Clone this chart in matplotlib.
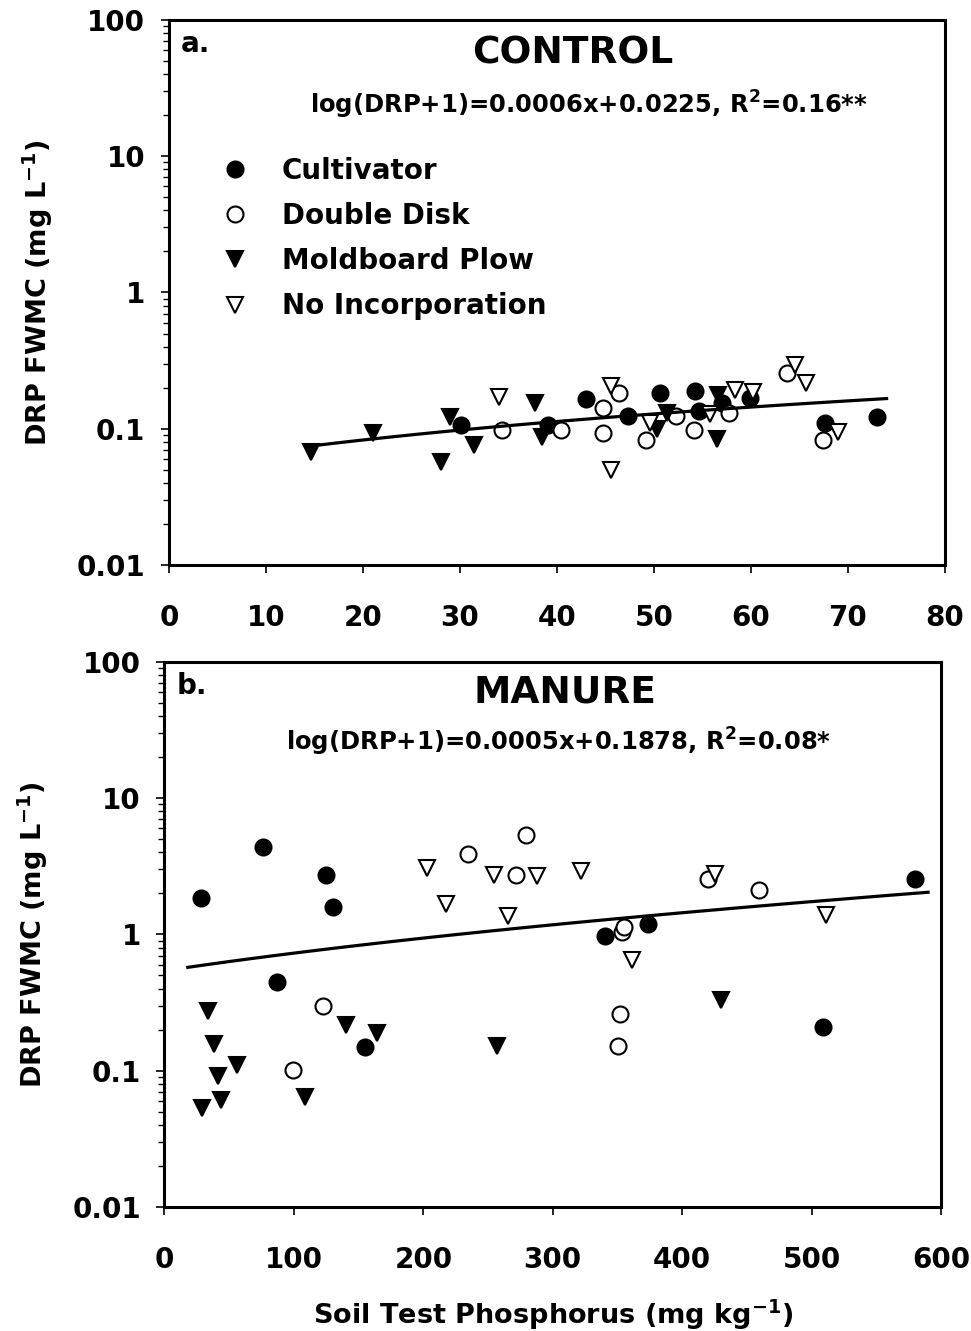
import matplotlib
matplotlib.use('Agg')
import matplotlib.pyplot as plt
import numpy as np
from matplotlib.ticker import FixedLocator, LogLocator, NullFormatter, FuncFormatter

plt.rcParams['font.family'] = ['DejaVu Sans']
plt.rcParams['font.weight'] = 'bold'
plt.rcParams['mathtext.default'] = 'bf'

treatments = ['Cultivator', 'Double Disk', 'Moldboard Plow', 'No Incorporation']

# panel a: CONTROL (soil test P, DRP FWMC)
ctrl_cult_x = [30.1, 39.1, 43.0, 47.3, 50.6, 54.2, 54.7, 57.0, 59.9, 67.6, 73.0]
ctrl_cult_y = [0.107, 0.107, 0.166, 0.123, 0.183, 0.190, 0.136, 0.155, 0.168, 0.111, 0.122]
ctrl_disk_x = [34.3, 40.4, 44.8, 44.8, 46.4, 49.2, 52.3, 54.1, 57.8, 63.7, 67.4]
ctrl_disk_y = [0.098, 0.098, 0.142, 0.093, 0.183, 0.082, 0.125, 0.098, 0.130, 0.257, 0.082]
ctrl_plow_x = [14.6, 21.0, 29.0, 28.1, 31.5, 37.7, 38.5, 50.3, 51.4, 56.6, 56.5]
ctrl_plow_y = [0.068, 0.093, 0.122, 0.057, 0.076, 0.155, 0.087, 0.100, 0.130, 0.176, 0.084]
ctrl_noinc_x = [34.0, 45.6, 45.6, 49.6, 55.8, 58.4, 60.2, 64.6, 65.7, 69.0]
ctrl_noinc_y = [0.172, 0.205, 0.050, 0.110, 0.128, 0.193, 0.186, 0.295, 0.218, 0.095]

# panel b: MANURE
man_cult_x = [28.2, 76.1, 86.9, 124.8, 130.2, 154.9, 340.4, 373.9, 509, 580]
man_cult_y = [1.84, 4.36, 0.444, 2.71, 1.58, 0.150, 0.97, 1.20, 0.210, 2.57]
man_disk_x = [99.3, 122.5, 234.3, 271.4, 279.7, 350.2, 352, 353.3, 355.1, 420.2, 459.4]
man_disk_y = [0.102, 0.296, 3.92, 2.71, 5.35, 0.153, 0.261, 1.04, 1.14, 2.57, 2.12]
man_plow_x = [29, 33.6, 38.3, 41.3, 43.7, 56, 108.6, 140.3, 164.2, 257.2, 429.8]
man_plow_y = [0.053, 0.276, 0.158, 0.092, 0.061, 0.111, 0.064, 0.218, 0.190, 0.153, 0.333]
man_noinc_x = [202.6, 217.3, 254.6, 265.2, 288.1, 321.9, 361, 425.4, 511]
man_noinc_y = [3.09, 1.68, 2.71, 1.36, 2.68, 2.92, 0.647, 2.79, 1.40]

# regressions: log(DRP+1) = slope*x + intercept
ctrl_fit = (0.0006, 0.0225)
ctrl_fit_range = (14.6, 74.0)
man_fit = (0.0005, 0.1878)
man_fit_range = (18.0, 590.0)

ctrl_xticks = [0, 10, 20, 30, 40, 50, 60, 70, 80]
man_xticks = [0, 100, 200, 300, 400, 500, 600]
yticks = [0.01, 0.1, 1, 10, 100]

styles = {
    'Cultivator': dict(marker='o', mfc='black', mec='black', ms=11.5),
    'Double Disk': dict(marker='o', mfc='white', mec='black', ms=11.5),
    'Moldboard Plow': dict(marker='v', mfc='black', mec='black', ms=12),
    'No Incorporation': dict(marker='v', mfc='white', mec='black', ms=12),
}


def plot_panel(ax, series, fit, fit_range, xticks, letter, title, eq, title_xy, eq_xy):
    for name, (xs, ys) in zip(treatments, series):
        ax.plot(xs, ys, linestyle='None', mew=1.5, label=name, zorder=3, **styles[name])

    xf = np.linspace(fit_range[0], fit_range[1], 50)
    yf = 10 ** (fit[0] * xf + fit[1]) - 1
    ax.plot(xf, yf, color='black', lw=2.3, zorder=4)

    ax.set_yscale('log')
    ax.set_ylim(0.01, 100)
    ax.set_xlim(xticks[0], xticks[-1])
    ax.xaxis.set_major_locator(FixedLocator(xticks))
    ax.yaxis.set_major_locator(FixedLocator(yticks))
    ax.yaxis.set_major_formatter(FuncFormatter(lambda v, p: '%g' % v))
    ax.yaxis.set_minor_locator(LogLocator(base=10, subs=np.arange(2, 10)))
    ax.yaxis.set_minor_formatter(NullFormatter())
    ax.tick_params(axis='x', which='major', direction='out', length=6, width=1.2,
                   labelsize=20, pad=22)
    ax.tick_params(axis='y', which='major', direction='out', length=6, width=1.2,
                   labelsize=20, pad=11)
    ax.tick_params(axis='y', which='minor', direction='out', length=4, width=1.0)
    for sp in ax.spines.values():
        sp.set_linewidth(2.2)

    ax.set_ylabel(r'DRP FWMC (mg L$^{-1}$)', fontsize=19.5, fontweight='bold')
    ax.yaxis.set_label_coords(-0.147, 0.5)

    ax.text(0.015, 0.955, letter, transform=ax.transAxes, fontsize=20,
            fontweight='bold', va='center', ha='left')
    ax.text(title_xy[0], title_xy[1], title, transform=ax.transAxes, fontsize=27,
            fontweight='bold', va='center', ha='center')
    ax.text(eq_xy[0], eq_xy[1], eq, transform=ax.transAxes, fontsize=17.5,
            fontweight='bold', va='center', ha='center')


fig = plt.figure(figsize=(9.71, 13.31), dpi=100)
ax1 = fig.add_axes([0.174, 0.5755, 0.799, 0.4095])
ax2 = fig.add_axes([0.1694, 0.0932, 0.7997, 0.4095])

plot_panel(ax1,
           [(ctrl_cult_x, ctrl_cult_y), (ctrl_disk_x, ctrl_disk_y),
            (ctrl_plow_x, ctrl_plow_y), (ctrl_noinc_x, ctrl_noinc_y)],
           ctrl_fit, ctrl_fit_range, ctrl_xticks, 'a.', 'CONTROL',
           r'log(DRP+1)=0.0006x+0.0225, R$^{2}$=0.16**',
           (0.521, 0.939), (0.541, 0.845))

plot_panel(ax2,
           [(man_cult_x, man_cult_y), (man_disk_x, man_disk_y),
            (man_plow_x, man_plow_y), (man_noinc_x, man_noinc_y)],
           man_fit, man_fit_range, man_xticks, 'b.', 'MANURE',
           r'log(DRP+1)=0.0005x+0.1878, R$^{2}$=0.08*',
           (0.516, 0.943), (0.507, 0.853))

ax1.legend(loc='upper left', bbox_to_anchor=(0.067, 0.749), frameon=False,
           handlelength=1.0, handletextpad=1.2, labelspacing=0.62,
           borderpad=0, borderaxespad=0, numpoints=1,
           prop={'weight': 'bold', 'size': 20})

ax2.set_xlabel(r'Soil Test Phosphorus (mg kg$^{-1}$)', fontsize=19.5, fontweight='bold')
ax2.xaxis.set_label_coords(0.5, -0.167)

fig.savefig('out.png', dpi=100)
